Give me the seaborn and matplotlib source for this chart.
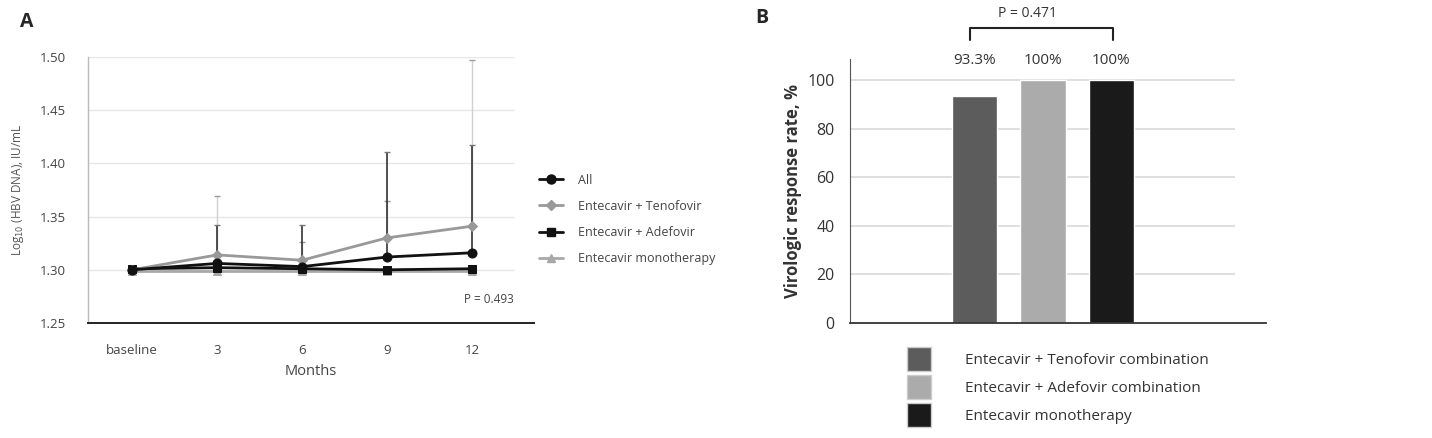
import numpy as np
import pandas as pd
import matplotlib.pyplot as plt
import seaborn as sns
from matplotlib.patches import Patch
from matplotlib.lines import Line2D

sns.set_style("white")
plt.rcParams["font.family"] = ["Open Sans", "DejaVu Sans"]

# ---- data: panel A ----
months = ["baseline", "3", "6", "9", "12"]
all_pts = [1.300, 1.306, 1.303, 1.312, 1.316]
teno = [1.300, 1.314, 1.309, 1.330, 1.341]
adefo = [1.301, 1.302, 1.301, 1.300, 1.301]
mono = [1.299, 1.299, 1.299, 1.299, 1.299]
all_err_top = [np.nan, 1.342, 1.342, 1.411, 1.417]
teno_err_top = [np.nan, 1.369, 1.326, 1.365, 1.497]

# ---- data: panel B ----
groups = ["Entecavir + Tenofovir combination",
          "Entecavir + Adefovir combination",
          "Entecavir monotherapy"]
response = [93.3, 100, 100]
response_labels = ["93.3%", "100%", "100%"]

W, H = 1432, 438
fig = plt.figure(figsize=(W / 100, H / 100), dpi=100)

def px_axes(left, top, right, bottom):
    return fig.add_axes([left / W, 1 - bottom / H, (right - left) / W, (bottom - top) / H])

# =========================
# Panel A
# =========================
axA = px_axes(88, 57, 534, 323)
df = pd.DataFrame({"month": months * 4,
                   "value": mono + adefo + teno + all_pts,
                   "group": (["Entecavir monotherapy"] * 5 + ["Entecavir + Adefovir"] * 5
                             + ["Entecavir + Tenofovir"] * 5 + ["All"] * 5)})

for y in [1.30, 1.35, 1.40, 1.45, 1.50]:
    axA.hlines(y, -0.52, 4.5, color="#e6e6e6", lw=1, zorder=0)

# upper error bars
xpos = np.arange(len(months))
axA.vlines(xpos, teno, teno_err_top, color="#d0d0d0", lw=1, zorder=1)
axA.plot(xpos, teno_err_top, ls="none", marker="_", ms=4, color="#999999", zorder=1)
axA.vlines(xpos, all_pts, all_err_top, color="#333333", lw=1.2, zorder=1)
axA.plot(xpos, all_err_top, ls="none", marker="_", ms=4, color="#777777", zorder=1)

styles = {
    "Entecavir monotherapy": ("#a8a8a8", "^", 6),
    "Entecavir + Adefovir": ("#111111", "s", 6),
    "Entecavir + Tenofovir": ("#999999", "D", 5),
    "All": ("#111111", "o", 6.5),
}
for g, (c, m, ms) in styles.items():
    sub = df[df["group"] == g]
    sns.lineplot(data=sub, x="month", y="value", ax=axA, color=c, marker=m,
                 markersize=ms, markeredgecolor=c, lw=2, sort=False, legend=False)

axA.set_xlim(-0.52, 4.73)
axA.set_ylim(1.25, 1.50)
axA.set_yticks([1.25, 1.30, 1.35, 1.40, 1.45, 1.50])
axA.set_yticklabels(["1.25", "1.30", "1.35", "1.40", "1.45", "1.50"])
axA.tick_params(axis="both", length=0, labelsize=9.5, colors="#444444")
axA.tick_params(axis="x", pad=15)
axA.tick_params(axis="y", pad=16)
axA.set_xlabel("Months", fontsize=10.5, color="#444444", labelpad=5)
axA.set_ylabel("Log$_{10}$ (HBV DNA), IU/mL", fontsize=8.5, color="#555555", labelpad=10)
for s in ["top", "right"]:
    axA.spines[s].set_visible(False)
axA.spines["left"].set_color("#bbbbbb")
axA.spines["left"].set_linewidth(1)
axA.spines["bottom"].set_color("#222222")
axA.spines["bottom"].set_linewidth(1.4)
axA.text(4.2, 1.272, "P = 0.493", fontsize=8.5, color="#444444", ha="center", va="center")

legend_order = ["All", "Entecavir + Tenofovir", "Entecavir + Adefovir", "Entecavir monotherapy"]
handlesA = [Line2D([], [], color=styles[g][0], marker=styles[g][1], ms=styles[g][2], lw=2)
            for g in legend_order]
leg = axA.legend(handlesA, legend_order,
                 loc="upper left", bbox_to_anchor=(1.0, 0.58), frameon=False, fontsize=9,
                 handlelength=1.9, handletextpad=1.2, labelspacing=1.05, borderaxespad=0)
for t in leg.get_texts():
    t.set_color("#444444")

fig.text(27 / W, 1 - 22 / H, "A", fontsize=14, fontweight="bold", ha="center", va="center")

# =========================
# Panel B
# =========================
axB = px_axes(850, 59, 1266, 323)
for y in [20, 40, 60, 80, 100]:
    axB.hlines(y, -1.82, 3.8, color="#d9d9d9", lw=1.2, zorder=0)

bar_colors = ["#5c5c5c", "#ababab", "#1a1a1a"]
dfB = pd.DataFrame({"group": groups, "response": response})
sns.barplot(data=dfB, x="group", y="response", hue="group", palette=bar_colors,
            width=0.66, legend=False, ax=axB, zorder=2)

axB.set_xlim(-1.82, 4.26)
axB.set_ylim(0, 108.6)
axB.set_yticks([0, 20, 40, 60, 80, 100])
axB.set_xticks([])
axB.set_xlabel("")
axB.set_ylabel("Virologic response rate, %", fontsize=12, fontweight="bold", color="#333333", labelpad=4)
axB.tick_params(axis="y", length=0, labelsize=11.5, colors="#333333", pad=11)
for s in ["top", "right"]:
    axB.spines[s].set_visible(False)
axB.spines["left"].set_color("#555555")
axB.spines["bottom"].set_color("#333333")
axB.spines["bottom"].set_linewidth(1.3)

for i, lab in enumerate(response_labels):
    axB.text(i, 107.8, lab, fontsize=11, color="#333333", ha="center", va="center", clip_on=False)

# significance bracket
bx0, bx1, by, bdrop = -0.06, 2.03, 121.4, 116.3
axB.plot([bx0, bx0, bx1, bx1], [bdrop, by, by, bdrop], color="#222222", lw=1.5, clip_on=False)
axB.text(0.78, 127.3, "P = 0.471", fontsize=10, color="#333333",
         ha="center", va="center", clip_on=False)

handlesB = [Patch(facecolor=c, edgecolor="#cccccc") for c in bar_colors]
legB = fig.legend(handlesB, groups, loc="upper left", bbox_to_anchor=(907 / W, 1 - 347 / H),
                  frameon=False, fontsize=11, handlelength=1.6, handleheight=2.0,
                  handletextpad=2.2, labelspacing=0.3, borderaxespad=0, borderpad=0)
for t in legB.get_texts():
    t.set_color("#333333")

fig.text(762 / W, 1 - 18 / H, "B", fontsize=14, fontweight="bold", ha="center", va="center")

fig.savefig("out.png", dpi=100)
